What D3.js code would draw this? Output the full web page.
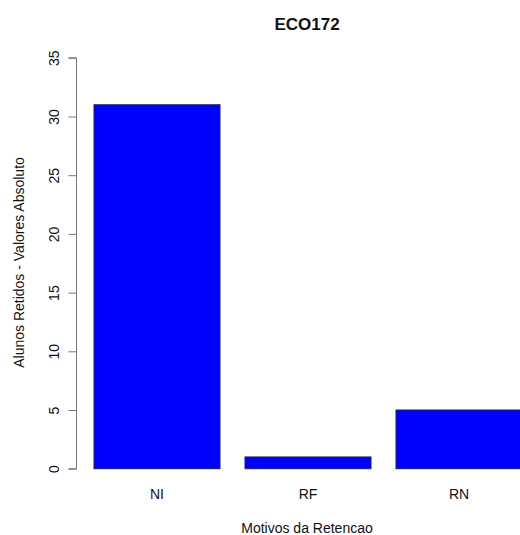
<!DOCTYPE html>
<html>
<head>
<meta charset="utf-8">
<script src="https://cdn.jsdelivr.net/npm/d3@7"></script>
<style>
  body { margin: 0; background: #fff; }
  svg { display: block; }
  text { font-family: "Liberation Sans", Arial, Helvetica, sans-serif; fill: #111; }
</style>
</head>
<body>
<svg id="chart" width="520" height="535"></svg>
<script>
const categories = ["NI", "RF", "RN"];
const values = [31, 1, 5];
const yTicks = [0, 5, 10, 15, 20, 25, 30, 35];
const title = "ECO172";
const xLabel = "Motivos da Retencao";
const yLabel = "Alunos Retidos - Valores Absoluto";

const W = 520, H = 535;
const svg = d3.select("#chart");

const x = d3.scaleBand()
  .domain(categories)
  .range([94, 522])
  .paddingInner(25 / 151)
  .paddingOuter(0);

const y = d3.scaleLinear().domain([0, 35]).range([468.7, 57.8]);

// bars
svg.append("g").selectAll("rect")
  .data(categories.map((c, i) => ({ c, v: values[i] })))
  .join("rect")
  .attr("x", d => x(d.c))
  .attr("y", d => y(d.v))
  .attr("width", x.bandwidth())
  .attr("height", d => y(0) - y(d.v))
  .attr("fill", "#0000ff")
  .attr("stroke", "#1c1c5a")
  .attr("stroke-width", 1);

// y axis
const yAxis = d3.axisLeft(y).tickValues(yTicks).tickSize(8).tickPadding(0).tickFormat(d3.format("d"));
const gy = svg.append("g").attr("transform", "translate(76.5,0)").call(yAxis);
gy.select(".domain").attr("stroke", "#777").attr("d", `M-8,${y(0)}H0V${y(35)}H-8`).attr("stroke-width", 1);
gy.selectAll(".tick line").attr("stroke", "#777");
gy.selectAll(".tick text")
  .attr("x", 0).attr("y", 0).attr("dy", null)
  .attr("transform", "translate(-18,0) rotate(-90)")
  .attr("text-anchor", "middle")
  .attr("font-size", 14)
  .style("font-family", '"Liberation Sans", Arial, sans-serif')
  .attr("fill", "#111");
gy.selectAll(".domain").raise();

// category labels
svg.append("g").selectAll("text")
  .data(categories)
  .join("text")
  .attr("x", d => x(d) + x.bandwidth() / 2)
  .attr("y", 499)
  .attr("text-anchor", "middle")
  .attr("font-size", 14)
  .text(d => d);

// title
svg.append("text")
  .attr("x", 307).attr("y", 30)
  .attr("text-anchor", "middle")
  .attr("font-size", 17)
  .attr("font-weight", "bold")
  .text(title);

// x label
svg.append("text")
  .attr("x", 307).attr("y", 533)
  .attr("text-anchor", "middle")
  .attr("font-size", 14)
  .text(xLabel);

// y label
svg.append("text")
  .attr("transform", "translate(24,262.5) rotate(-90)")
  .attr("text-anchor", "middle")
  .attr("font-size", 14)
  .text(yLabel);
</script>
</body>
</html>
